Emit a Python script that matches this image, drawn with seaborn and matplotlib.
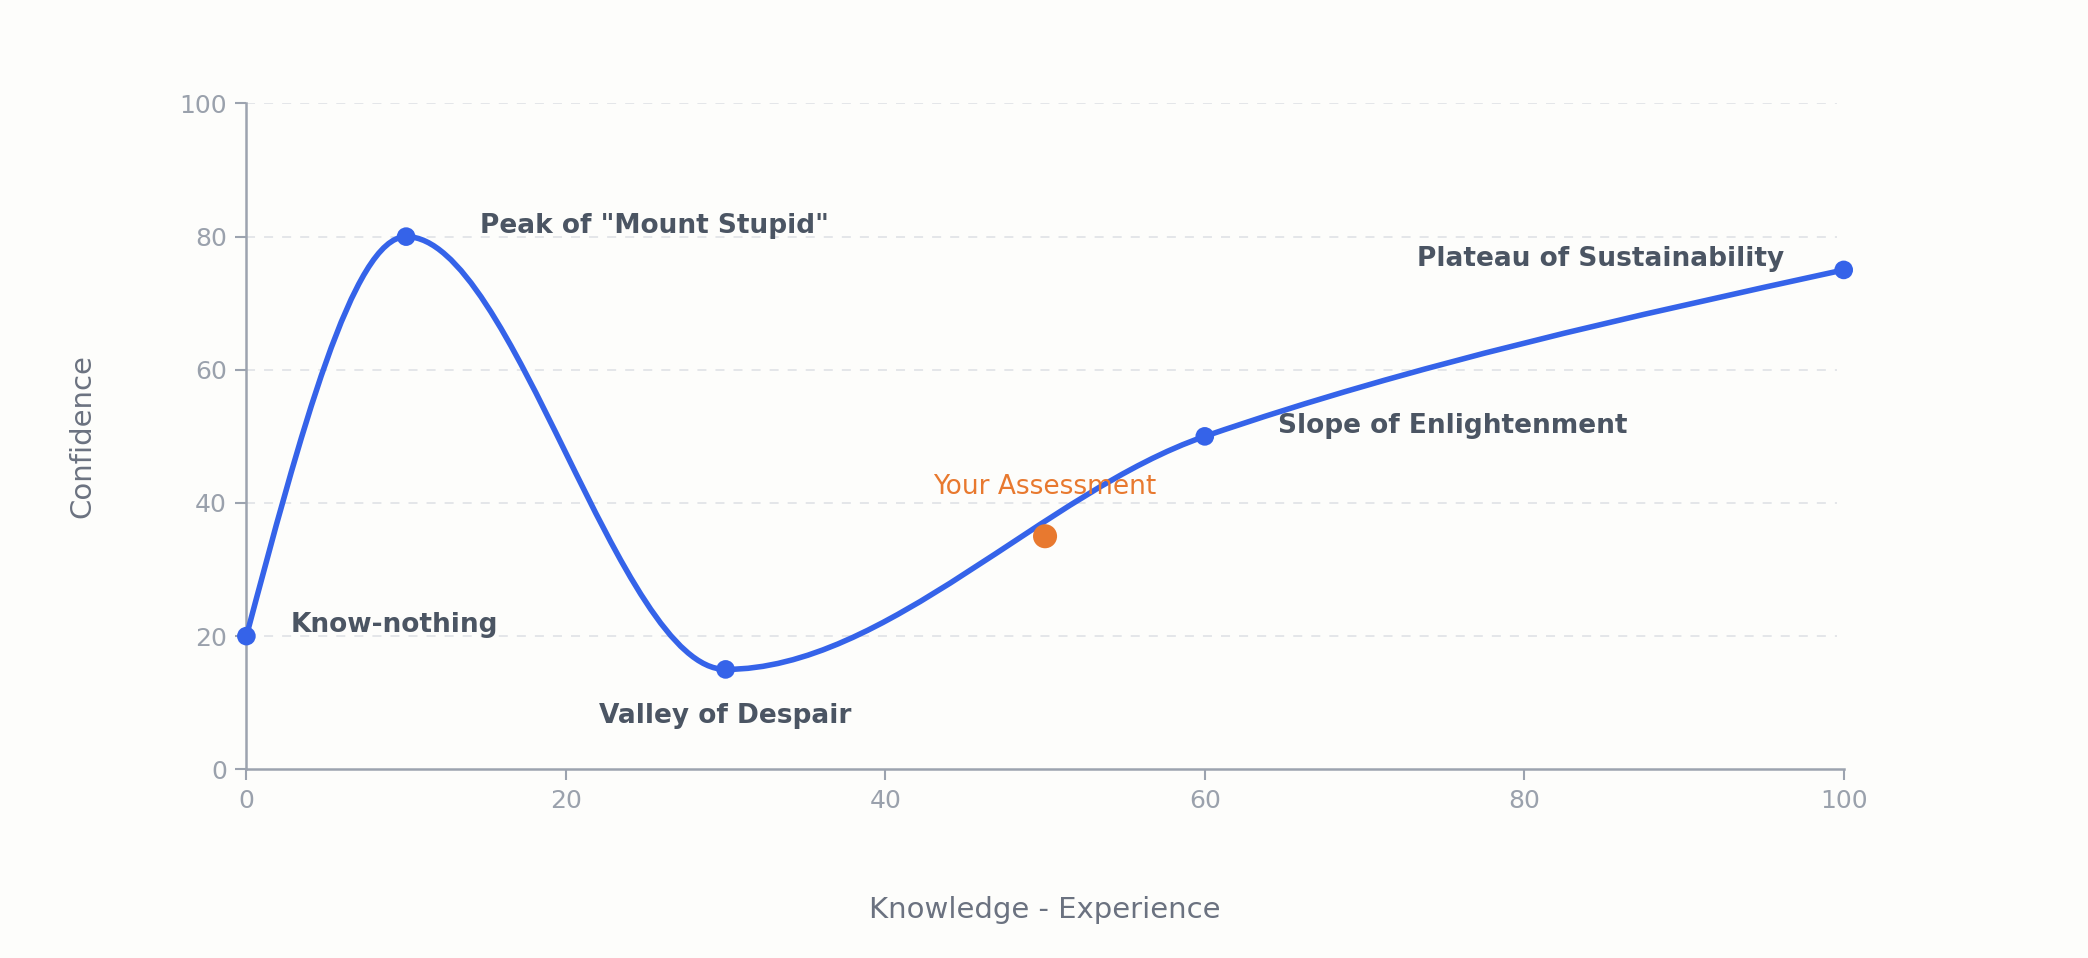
import matplotlib
matplotlib.use("Agg")
import matplotlib.pyplot as plt
import seaborn as sns
import numpy as np
import pandas as pd
from matplotlib.path import Path
from matplotlib.patches import PathPatch

stages = ["Know-nothing", 'Peak of "Mount Stupid"', "Valley of Despair", "Slope of Enlightenment", "Plateau of Sustainability"]
knowledge = [0, 10, 30, 60, 100]
confidence = [20, 80, 15, 50, 75]
assess_x = [50]
assess_y = [35]
xticks = [0, 20, 40, 60, 80, 100]
yticks = [0, 20, 40, 60, 80, 100]

bg = "#FDFDFB"
blue = "#3563E9"
orange = "#E8792F"
txt = "#4B5563"
grey = "#9CA3AF"

fig = plt.figure(figsize=(20.88, 9.58), dpi=100, facecolor=bg)
ax = fig.add_axes([0.118, 0.197, 0.765, 0.695], facecolor=bg)
df = pd.DataFrame({"k": knowledge, "c": confidence})

# monotone cubic bezier through points
x = np.array(knowledge, float); y = np.array(confidence, float)
h = np.diff(x); d = np.diff(y) / h
m = np.zeros_like(x)
m[0] = d[0]; m[-1] = d[-1]
for i in range(1, len(x) - 1):
    if d[i-1] * d[i] <= 0:
        m[i] = 0
    else:
        w1 = 2*h[i] + h[i-1]; w2 = h[i] + 2*h[i-1]
        m[i] = (w1 + w2) / (w1/d[i-1] + w2/d[i])
m[0] = (3*d[0] - m[1]) / 2
m[-1] = (3*d[-1] - m[-2]) / 2
verts = [(x[0], y[0])]; codes = [Path.MOVETO]
for i in range(len(x) - 1):
    verts += [(x[i] + h[i]/3, y[i] + m[i]*h[i]/3), (x[i+1] - h[i]/3, y[i+1] - m[i+1]*h[i]/3), (x[i+1], y[i+1])]
    codes += [Path.CURVE4] * 3
ax.add_patch(PathPatch(Path(verts, codes), fill=False, edgecolor=blue, lw=4, zorder=3, capstyle="round"))

sns.scatterplot(data=df, x="k", y="c", color=blue, s=180, edgecolor="none", zorder=4, ax=ax, clip_on=False)
sns.scatterplot(x=assess_x, y=assess_y, color=orange, s=300, edgecolor="none", zorder=5, ax=ax)

fs = 19
ax.text(2.75, 21.6, stages[0], color=txt, fontsize=fs, fontweight="semibold", va="center", ha="left")
ax.text(14.6, 81.6, stages[1], color=txt, fontsize=fs, fontweight="semibold", va="center", ha="left")
ax.text(30, 8, stages[2], color=txt, fontsize=fs, fontweight="semibold", va="center", ha="center")
ax.text(64.6, 51.6, stages[3], color=txt, fontsize=fs, fontweight="semibold", va="center", ha="left")
ax.text(96.3, 76.6, stages[4], color=txt, fontsize=fs, fontweight="semibold", va="center", ha="right")
ax.text(50, 42.4, "Your Assessment", color=orange, fontsize=fs, va="center", ha="center")

ax.set_xlim(0, 100); ax.set_ylim(0, 100)
ax.set_xticks(xticks); ax.set_yticks(yticks)
for t in yticks[1:]:
    ax.plot([0, 99.6], [t, t], color="#E2E4E8", lw=1.3, ls=(0, (5, 5)), zorder=1)
ax.tick_params(colors=grey, labelcolor="#9AA1AC", labelsize=18, length=8, width=1.5, pad=6)
for s in ["top", "right"]:
    ax.spines[s].set_visible(False)
for s in ["left", "bottom"]:
    ax.spines[s].set_color(grey); ax.spines[s].set_linewidth(1.8)
ax.set_xlabel("Knowledge - Experience", fontsize=21, color="#6B7280", labelpad=60)
ax.set_ylabel("Confidence", fontsize=21, color="#6B7280", labelpad=60)
fig.savefig("out.png", dpi=100, facecolor=bg)
